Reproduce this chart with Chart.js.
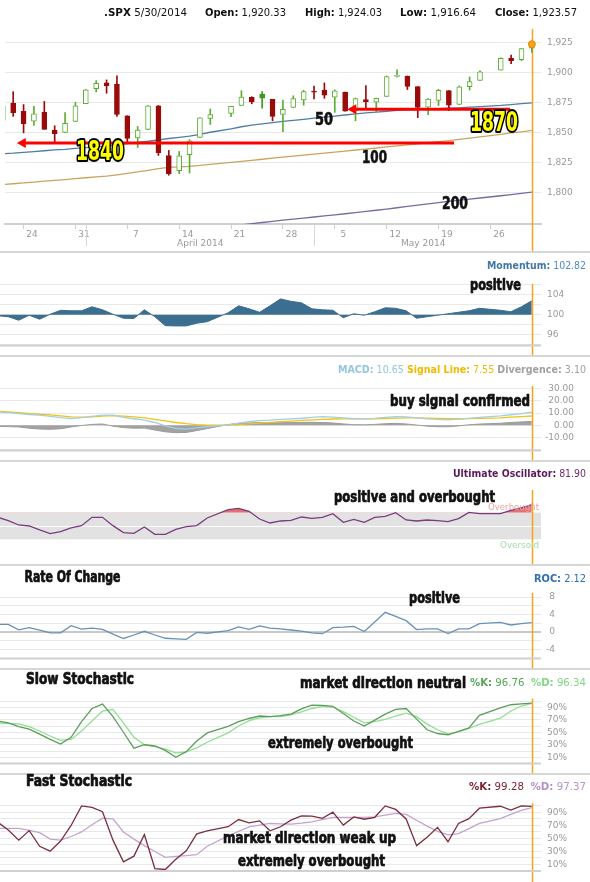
<!DOCTYPE html>
<html lang="en">
<head>
<meta charset="UTF-8">
<title>.SPX 5/30/2014 technical chart</title>
<script src="https://cdn.jsdelivr.net/npm/chart.js"></script>
<style>
  html, body { margin: 0; padding: 0; background: #fff; }
  #wrap { position: relative; width: 590px; height: 882px; overflow: hidden; background: #fff; }
  #wrap canvas { position: absolute; left: 0; }
  .sep { position: absolute; left: 0; width: 590px; height: 2px; background: #d6d6d6; }
</style>
</head>
<body>
<div id="wrap">
  <canvas id="cPrice" width="590" height="252" style="top:0px"></canvas>
  <canvas id="cMom" width="590" height="104" style="top:252px"></canvas>
  <canvas id="cMacd" width="590" height="105" style="top:356px"></canvas>
  <canvas id="cUlt" width="590" height="104" style="top:461px"></canvas>
  <canvas id="cRoc" width="590" height="104" style="top:565px"></canvas>
  <canvas id="cSlow" width="590" height="105" style="top:669px"></canvas>
  <canvas id="cFast" width="590" height="108" style="top:774px"></canvas>
  <div class="sep" style="top:251px"></div>
  <div class="sep" style="top:355px"></div>
  <div class="sep" style="top:460px"></div>
  <div class="sep" style="top:564px"></div>
  <div class="sep" style="top:668px"></div>
  <div class="sep" style="top:773px"></div>
  <canvas id="overlay" width="590" height="882" style="top:0px"></canvas>
</div>

<script>
// trading days shown (2014)
const days = ['3/20','3/21','3/24','3/25','3/26','3/27','3/28','3/31','4/1','4/2','4/3','4/4',
  '4/7','4/8','4/9','4/10','4/11','4/14','4/15','4/16','4/17','4/21','4/22','4/23','4/24','4/25',
  '4/28','4/29','4/30','5/1','5/2','5/5','5/6','5/7','5/8','5/9','5/12','5/13','5/14','5/15','5/16',
  '5/19','5/20','5/21','5/22','5/23','5/27','5/28','5/29','5/30'];

const open = [1860.1,1874.5,1867.7,1859.5,1867.1,1852.1,1850.1,1859.2,1874.0,1886.6,1891.4,1890.3,
  1863.9,1845.5,1852.6,1872.3,1830.7,1818.2,1831.5,1846.0,1861.7,1865.8,1872.6,1879.3,1882.0,1877.7,
  1865.0,1870.8,1877.1,1884.4,1885.3,1879.5,1883.7,1868.5,1877.4,1875.3,1880.0,1896.8,1897.1,1888.2,1871.2,
  1876.7,1884.9,1873.3,1888.2,1893.3,1902.0,1911.8,1910.6,1920.33];
const high = [1873.5,1884.0,1873.3,1871.9,1875.9,1855.6,1866.6,1875.2,1885.8,1893.2,1893.8,1897.3,
  1864.0,1855.0,1872.4,1872.5,1835.1,1834.2,1844.0,1862.3,1869.6,1871.9,1884.9,1879.8,1884.1,1877.7,
  1877.0,1880.6,1885.2,1888.6,1891.3,1885.5,1883.7,1878.8,1889.1,1878.6,1897.1,1902.2,1897.1,1888.2,1878.3,
  1886.0,1884.9,1888.8,1896.3,1901.3,1912.3,1914.5,1920.0,1924.03];
const low = [1854.6,1863.5,1849.7,1856.0,1852.6,1842.1,1850.1,1859.2,1874.0,1883.8,1882.7,1863.3,
  1841.5,1837.5,1852.4,1830.9,1814.4,1815.8,1816.3,1846.0,1856.7,1863.2,1872.6,1873.9,1870.2,1859.7,
  1850.6,1870.8,1872.7,1878.0,1878.5,1866.8,1867.7,1859.8,1870.1,1867.0,1880.0,1896.1,1885.8,1862.4,1864.8,
  1872.4,1868.1,1873.3,1885.4,1893.3,1902.0,1907.3,1909.8,1916.64];
const close = [1872.0,1866.5,1857.4,1865.6,1852.6,1849.0,1857.6,1872.3,1885.5,1890.9,1888.8,1865.1,
  1845.0,1852.0,1872.2,1833.1,1815.7,1830.6,1843.0,1862.3,1864.9,1871.9,1879.6,1875.4,1878.6,1863.4,
  1869.4,1878.3,1884.0,1883.7,1881.1,1884.7,1867.7,1878.2,1875.6,1878.5,1896.7,1897.5,1888.5,1870.9,1877.9,
  1885.1,1872.8,1888.0,1892.5,1900.5,1911.9,1909.8,1920.0,1923.57];

const sma50 = [1832.3,1832.8,1833.5,1834.1,1834.8,1835.5,1836.0,1836.7,1837.4,1838.1,1838.8,1839.8,
  1840.7,1841.7,1842.7,1843.9,1845.0,1846.0,1847.0,1848.5,1850.2,1853.0,1854.8,1856.2,1857.2,1858.2,
  1859.3,1860.1,1861.0,1861.9,1862.8,1863.7,1864.6,1865.6,1866.3,1867.0,1867.7,1868.4,1868.8,1869.1,1869.5,
  1869.9,1870.2,1870.6,1871.1,1871.6,1872.6,1873.3,1874.0,1874.7];
const sma100 = [1806.6,1807.3,1808.0,1808.7,1809.4,1810.1,1810.8,1811.5,1812.3,1813.0,1813.6,1814.7,
  1815.9,1817.1,1818.5,1819.9,1821.0,1821.3,1821.8,1822.6,1823.4,1825.1,1826.0,1826.8,1827.7,1828.6,
  1829.5,1830.3,1831.1,1832.0,1832.8,1833.7,1834.5,1835.4,1836.2,1837.1,1838.0,1838.9,1839.7,1840.6,1841.5,
  1842.4,1843.3,1844.3,1845.3,1846.4,1848.5,1849.6,1850.6,1851.7];
const sma200 = [1751.0,1752.0,1753.0,1754.0,1755.0,1756.0,1757.0,1758.0,1758.9,1759.8,1760.7,1761.6,
  1762.5,1763.4,1764.3,1765.2,1766.1,1767.0,1767.9,1768.9,1769.9,1772.0,1773.0,1774.0,1775.0,1775.9,
  1776.9,1777.8,1778.7,1779.6,1780.5,1781.4,1782.3,1783.2,1784.2,1785.2,1786.2,1787.3,1788.4,1789.5,1790.5,
  1791.6,1792.7,1793.6,1794.5,1795.4,1797.3,1798.3,1799.3,1800.3];

const momentum = [99.8,99.6,98.9,99.9,99.1,100.1,100.9,100.8,100.8,101.6,101.0,100.1,
  99.3,99.25,101.0,99.6,97.8,97.75,97.75,98.3,98.6,100.4,101.8,101.2,100.5,101.8,
  103.2,102.7,102.4,101.2,101.0,100.9,99.4,100.2,99.9,100.6,101.4,101.3,100.8,99.3,99.6,
  99.9,100.2,100.5,100.8,101.3,100.9,100.6,101.6,102.82];

const macd = [10.9,10.3,9.5,8.8,8.2,7.2,6.2,5.4,6.2,7.2,8.3,8.3,
  6.5,5.3,4.2,2.2,-0.5,-2.6,-3.2,-2.3,-1.3,0.3,1.6,2.8,3.8,4.2,
  4.7,5.2,5.7,6.5,7.0,6.6,6.0,5.3,5.2,5.6,6.4,7.0,6.8,6.0,5.2,
  4.8,4.4,4.9,5.6,6.4,7.6,8.6,9.6,10.65];
const signal = [11.5,11.0,10.3,9.7,9.0,8.4,7.7,6.8,6.6,6.8,7.4,7.8,
  7.5,6.9,6.0,4.8,3.5,2.2,1.2,0.5,0.1,0.0,0.4,1.0,1.7,2.3,
  2.9,3.4,3.9,4.4,4.8,5.1,5.2,5.2,5.2,5.3,5.5,5.8,6.0,6.0,5.8,
  5.6,5.4,5.3,5.4,5.6,6.0,6.6,7.0,7.55];
const divergence = [-1.0,-1.2,-1.5,-2.5,-3.2,-3.4,-3.0,-1.5,-0.3,0.6,1.0,-0.8,
  -2.0,-2.5,-2.4,-4.0,-5.5,-6.2,-6.0,-4.5,-2.8,0.5,1.5,1.8,2.1,2.0,
  2.0,2.1,2.3,2.4,2.2,1.8,1.0,0.4,0.3,0.6,1.2,1.5,1.0,0.1,-0.8,
  -1.3,-1.3,-0.6,0.3,0.9,1.6,2.2,2.7,3.1];

const ultimate = [63,58,51.5,50,44,38.5,41.5,47,50.5,63,63,50.5,
  40,39,48.5,37.5,37.5,45,49,50.5,62,74.5,76.5,72,60.5,54.5,
  57.5,58.5,63.5,61.5,63,68.5,55.5,60,55.5,63,64.5,70,59,57.5,59,
  58,56.5,61,70.5,68.5,68.5,73.5,77,81.9];

const roc = [1.75,1.75,0.5,1.0,0.4,-0.2,-0.2,1.45,0.65,0.9,0.6,-0.5,
  -1.5,-0.7,0.15,-0.7,-1.45,-1.6,-1.7,-0.1,-0.3,0.3,1.15,0.6,1.4,0.9,
  0.7,0.45,0.2,-0.2,-0.4,1.0,1.1,1.3,0.1,2.3,4.5,3.6,2.6,0.55,0.7,
  0.7,-0.35,0.7,0.7,1.9,2.2,1.6,1.9,2.12];

const slowK = [68,65,59,55,47,38.5,31,42,67,88,95,75,
  50,24.5,30,28,21,10,19,36,49,59.5,67,72,76,75,
  76.5,79,87.5,93.5,93,91.5,80,68,60,69.5,79,86.5,88,71,54,
  48,46,51.5,57,77,89,94,95.5,96.76];
const slowD = [65,64,63.5,59,52,44,37,38.5,52,68,84,86.5,
  65,42,30,27,23,17,18.5,25,34,49,60,68.5,73,75,
  75,78,82.5,88,91.5,90,83,74,65,67,70.5,76,80.5,75,63,
  54,47.5,50.5,56,62.5,72.5,84,92,96.34];
const fastK = [75,63,47.4,62,38,30.5,46,70,100,97.7,91,47.4,
  14,22.8,56,3.8,2.3,18,31,57,61.5,68,79,74,77,61.7,
  68,78.2,84.5,84.3,81,90.5,70.5,83,79.5,82.5,100,94.6,80,39,52,
  67,45,73,80.5,96.5,99.5,93.5,100,99.28];
const fastD = [65.4,65.4,65.4,62.5,59,49,47.4,53,60,71,81,80,
  60,49,39,30,21,22.5,23.5,25,38,54,61,67.8,70.5,73,
  72.5,72,73.5,75.5,79,82.3,82.3,82.3,82.5,83,86,88.5,87,78,69,
  61,55.5,57.5,65,73,80.5,87,93,97.37];

const weekTicks = ['3/24','3/31','4/7','4/14','4/21','4/28','5/5','5/12','5/19','5/26'];
const months = [['April 2014', '4/1'], ['May 2014', '5/1']];

// weekday slot counted from the first day (holidays keep their slot)
function slotOf(md) {
  const p = md.split('/').map(Number);
  const target = new Date(2014, p[0] - 1, p[1]);
  let n = 0;
  for (let d = new Date(2014, 2, 20); d < target; d.setDate(d.getDate() + 1)) {
    if (d.getDay() !== 0 && d.getDay() !== 6) n++;
  }
  return n;
}

const xs = days.map(slotOf);
const LAST = xs.length - 1;
const X_MIN = 0.21, X_MAX = 51.88;
const PLOT_RIGHT = 541;
const pts = vals => vals.map((v, k) => ({ x: xs[k], y: v }));

function lineSet(vals, color, extra) {
  return Object.assign({
    type: 'line', data: pts(vals), borderColor: color, borderWidth: 1.3,
    pointRadius: 0, fill: false, tension: 0
  }, extra || {});
}

function xHidden() {
  return { type: 'linear', min: X_MIN, max: X_MAX, offset: false, display: false };
}

// o.edge: right edge for right-aligned labels (otherwise labels are left-aligned)
function yAxis(o) {
  const isZero = c => o.zero && c.tick && c.tick.value === 0;
  return {
    position: 'right', min: o.min, max: o.max,
    afterFit(s) { s.width = (o.edge || 590) - PLOT_RIGHT; },
    afterBuildTicks(s) { s.ticks = o.grid.map(v => ({ value: v })); },
    grid: {
      drawTicks: false,
      display: o.grid.length > 0,
      color: c => isZero(c) ? '#c9c9c9' : '#e9e9e9',
      lineWidth: c => isZero(c) ? 2 : 1
    },
    border: { display: false },
    ticks: {
      display: !!o.labels,
      autoSkip: false,
      padding: 6,
      crossAlign: o.edge ? 'far' : 'near',
      color: '#999',
      font: { family: 'DejaVu Sans', size: 9, lineHeight: 1 },
      callback: v => (o.labels && o.labels.includes(v)) ? o.fmt(v) : ''
    }
  };
}

function cursorLine(behind) {
  const draw = chart => {
    const c = chart.ctx;
    const x = Math.round(chart.scales.x.getPixelForValue(xs[LAST])) + 0.5;
    c.save();
    c.strokeStyle = '#f7a21b';
    c.lineWidth = 1.5;
    c.beginPath();
    c.moveTo(x, chart.chartArea.top);
    c.lineTo(x, chart.height);
    c.stroke();
    c.restore();
  };
  return behind ? { id: 'cursor', beforeDatasetsDraw: draw } : { id: 'cursor', afterDatasetsDraw: draw };
}

const bottomLine = {
  id: 'bottomLine',
  afterDraw(chart) {
    const a = chart.chartArea, c = chart.ctx;
    c.save();
    c.strokeStyle = '#d0d0d0';
    c.lineWidth = 2;
    c.beginPath();
    c.moveTo(a.left, a.bottom);
    c.lineTo(a.right, a.bottom);
    c.stroke();
    c.restore();
  }
};

function panel(id, cfg) {
  return new Chart(document.getElementById(id), {
    type: cfg.type || 'line',
    data: { datasets: cfg.datasets },
    options: {
      responsive: false, animation: false, events: [],
      layout: { padding: { top: cfg.padTop, bottom: cfg.padBottom, left: 0, right: cfg.edge ? 590 - cfg.edge : 0 } },
      plugins: { legend: { display: false }, tooltip: { enabled: false } },
      scales: { x: cfg.x || xHidden(), y: cfg.y }
    },
    plugins: cfg.plugins
  });
}

// ---------- price ----------
const kind = close.map((c, k) => {
  if (c >= open[k]) return 'up';
  if (k > 0 && c >= close[k - 1]) return 'downUp';
  return 'down';
});
const bodyFill = { up: '#ffffff', down: '#990b0b', downUp: '#3f9a1e' };
const bodyLine = { up: '#5cad34', down: '#990b0b', downUp: '#3f9a1e' };

const arrows = [
  { level: 1841.2, from: 1.35, to: 43.5 },
  { level: 1869.3, from: 33.2, to: 48.9 }
];

const priceExtras = {
  id: 'priceExtras',
  afterDatasetsDraw(chart) {
    const c = chart.ctx, x = chart.scales.x, y = chart.scales.y;
    c.save();
    arrows.forEach(a => {
      const py = y.getPixelForValue(a.level);
      const x0 = x.getPixelForValue(a.from), x1 = x.getPixelForValue(a.to);
      c.strokeStyle = '#ff0000';
      c.lineWidth = 3;
      c.beginPath();
      c.moveTo(x0 + 6, py);
      c.lineTo(x1, py);
      c.stroke();
      c.fillStyle = '#ff0000';
      c.beginPath();
      c.moveTo(x0, py);
      c.lineTo(x0 + 9, py - 5);
      c.lineTo(x0 + 9, py + 5);
      c.closePath();
      c.fill();
    });
    c.restore();
  },
  afterDraw(chart) {
    const c = chart.ctx, x = chart.scales.x, a = chart.chartArea;
    c.save();
    c.strokeStyle = '#d8d8d8';
    c.lineWidth = 1;
    c.fillStyle = '#9a9a9a';
    c.font = '9px "DejaVu Sans"';
    c.textAlign = 'center';
    c.textBaseline = 'middle';
    months.forEach((m, k) => {
      const px = Math.round(x.getPixelForValue(slotOf(m[1]))) + 0.5;
      const next = k + 1 < months.length ? x.getPixelForValue(slotOf(months[k + 1][1])) : x.getPixelForValue(xs[LAST]);
      c.beginPath();
      c.moveTo(px, a.bottom);
      c.lineTo(px, a.bottom + 22);
      c.stroke();
      c.fillText(m[0], (px + next) / 2, 244);
    });
    c.restore();
  }
};

panel('cPrice', {
  type: 'bar',
  padTop: 29, padBottom: 0,
  datasets: [
    { type: 'line', data: [{ x: xs[LAST], y: close[LAST] }], showLine: false,
      pointRadius: 3.5, pointBackgroundColor: '#f7a21b', pointBorderColor: '#e38b00', pointBorderWidth: 1, order: 0 },
    { type: 'bar', data: days.map((d, k) => ({ x: xs[k], y: [open[k], close[k]] })),
      backgroundColor: kind.map(t => bodyFill[t]), borderColor: kind.map(t => bodyLine[t]),
      borderWidth: 1, borderSkipped: false, barThickness: 5, grouped: false, minBarLength: 1, order: 1 },
    { type: 'bar', data: days.map((d, k) => ({ x: xs[k], y: [low[k], high[k]] })),
      backgroundColor: kind.map(t => bodyLine[t]), barThickness: 1, grouped: false, order: 2 },
    lineSet(sma50, '#4d7fa3', { order: 3 }),
    lineSet(sma100, '#c9a55c', { order: 3 }),
    lineSet(sma200, '#7c69a0', { order: 3 })
  ],
  x: {
    type: 'linear', min: X_MIN, max: X_MAX, offset: false,
    afterBuildTicks(s) { s.ticks = weekTicks.map(d => ({ value: slotOf(d) })); },
    afterFit(s) { s.height = 28; },
    grid: { offset: false, drawOnChartArea: false, drawTicks: true, tickLength: 5, color: '#cfcfcf' },
    border: { display: true, color: '#cfcfcf', width: 2 },
    ticks: {
      autoSkip: false, maxRotation: 0, padding: 0, labelOffset: 8.5,
      color: '#9a9a9a', font: { family: 'DejaVu Sans', size: 9 },
      callback: (v, i) => weekTicks[i].split('/')[1]
    }
  },
  y: yAxis({ min: 1773.75, max: 1936.25, grid: [1800, 1825, 1850, 1875, 1900, 1925],
    labels: [1800, 1825, 1850, 1875, 1900, 1925], fmt: v => v.toLocaleString('en-US') }),
  plugins: [cursorLine(true), priceExtras]
});

// ---------- momentum ----------
panel('cMom', {
  padTop: 32, padBottom: 6,
  datasets: [lineSet(momentum, '#3c6e90', { borderWidth: 1, fill: { value: 100 }, backgroundColor: '#3c6e90' })],
  y: yAxis({ min: 93.8, max: 106.2, grid: [94, 96, 98, 100, 102, 104, 106], labels: [96, 100, 104], fmt: v => String(v) }),
  plugins: [cursorLine(false), bottomLine]
});

// ---------- MACD ----------
panel('cMacd', {
  padTop: 30, padBottom: 7, edge: 574,
  datasets: [
    lineSet(macd, '#a3cfe4', { order: 0 }),
    lineSet(signal, '#f1c316', { order: 1 }),
    lineSet(divergence, '#9c9c9c', { order: 2, borderWidth: 1, fill: { value: 0 }, backgroundColor: '#a2a2a2' })
  ],
  y: yAxis({ min: -20.9, max: 32.3, grid: [-20, -10, 0, 10, 20, 30], labels: [-10, 0, 10, 20, 30],
    fmt: v => v.toFixed(2), edge: 574 }),
  plugins: [cursorLine(false), bottomLine]
});

// ---------- Ultimate Oscillator ----------
const UO_HIGH = 70, UO_MID = 50, UO_LOW = 30;
const uoBand = {
  id: 'uoBand',
  beforeDatasetsDraw(chart) {
    const c = chart.ctx, y = chart.scales.y, a = chart.chartArea;
    const top = y.getPixelForValue(UO_HIGH), bot = y.getPixelForValue(UO_LOW), mid = y.getPixelForValue(UO_MID);
    c.save();
    c.fillStyle = '#e2e2e2';
    c.fillRect(a.left, top, a.right - a.left, bot - top);
    c.strokeStyle = '#ffffff';
    c.lineWidth = 1;
    c.beginPath();
    c.moveTo(a.left, Math.round(mid) + 0.5);
    c.lineTo(a.right, Math.round(mid) + 0.5);
    c.stroke();
    c.restore();
  }
};
panel('cUlt', {
  padTop: 29, padBottom: 5.7,
  datasets: [lineSet(ultimate, '#7b3b7d', {
    fill: { target: { value: UO_HIGH }, above: 'rgba(226,98,98,0.9)', below: 'rgba(0,0,0,0)' }
  })],
  y: yAxis({ min: 0, max: 104, grid: [] }),
  plugins: [uoBand, cursorLine(false)]
});

// ---------- ROC ----------
panel('cRoc', {
  padTop: 28, padBottom: 7, edge: 555,
  datasets: [lineSet(roc, '#6991b6')],
  y: yAxis({ min: -6.1, max: 8.95, grid: [-6, -4, -2, 0, 2, 4, 6, 8], labels: [-4, 0, 4, 8],
    fmt: v => String(v), edge: 555, zero: true }),
  plugins: [cursorLine(false), bottomLine]
});

// ---------- stochastics ----------
const stochGrid = [0, 10, 20, 30, 40, 50, 60, 70, 80, 90, 100];
const stochLabels = [10, 30, 50, 70, 90];
panel('cSlow', {
  padTop: 29.5, padBottom: 7.8,
  datasets: [lineSet(slowK, '#5f9d5f'), lineSet(slowD, '#90df90')],
  y: yAxis({ min: 0, max: 104, grid: stochGrid, labels: stochLabels, fmt: v => v + '%' }),
  plugins: [cursorLine(false), bottomLine]
});
panel('cFast', {
  padTop: 29.3, padBottom: 11,
  datasets: [lineSet(fastK, '#7a2f3f'), lineSet(fastD, '#c3a3cf')],
  y: yAxis({ min: 0, max: 104, grid: stochGrid, labels: stochLabels, fmt: v => v + '%' }),
  plugins: [cursorLine(false), bottomLine]
});

// ---------- text layer ----------
const ov = document.getElementById('overlay').getContext('2d');
const COND = '"Liberation Sans Narrow", "DejaVu Sans Condensed", "Liberation Sans", sans-serif';

function fitText(str, x, base, w, font, color, stroke) {
  ov.save();
  ov.font = font;
  const nat = ov.measureText(str).width;
  ov.translate(x, base);
  ov.scale(w / nat, 1);
  if (stroke) {
    ov.lineJoin = 'round';
    ov.lineWidth = stroke[1];
    ov.strokeStyle = stroke[0];
    ov.strokeText(str, 0, 0);
  }
  ov.fillStyle = color;
  ov.fillText(str, 0, 0);
  ov.restore();
}

function runs(parts, left, base, w) {
  ov.save();
  const fonts = parts.map(p => (p[2] ? 'bold ' : '') + '10px "DejaVu Sans"');
  let nat = 0;
  parts.forEach((p, i) => { ov.font = fonts[i]; nat += ov.measureText(p[0]).width; });
  ov.translate(left, base);
  ov.scale(w / nat, 1);
  let cx = 0;
  parts.forEach((p, i) => {
    ov.font = fonts[i];
    ov.fillStyle = p[1];
    ov.fillText(p[0], cx, 0);
    cx += ov.measureText(p[0]).width;
  });
  ov.restore();
}

// header
runs([['.SPX', '#111', true], [' 5/30/2014', '#111']], 104, 15.5, 83);
runs([['Open:', '#111', true], [' 1,920.33', '#111']], 205, 15.5, 81);
runs([['High:', '#111', true], [' 1,924.03', '#111']], 305, 15.5, 77);
runs([['Low:', '#111', true], [' 1,916.64', '#111']], 400, 15.5, 76);
runs([['Close:', '#111', true], [' 1,923.57', '#111']], 495, 15.5, 82);

// panel titles
runs([['Momentum:', '#3f78a6', true], [' 102.82', '#4d8bc2']], 487, 269, 99);
runs([['MACD:', '#95c6de', true], [' 10.65 ', '#95c6de'], ['Signal Line:', '#eebb00', true], [' 7.55 ', '#eebb00'],
  ['Divergence:', '#a0a0a0', true], [' 3.10', '#a0a0a0']], 338, 373, 248);
runs([['Ultimate Oscillator:', '#5b1a5e', true], [' 81.90', '#6e2c70']], 453, 477, 133);
runs([['ROC:', '#2f6fae', true], [' 2.12', '#2f6fae']], 534, 582, 52);
runs([['%K:', '#58a458', true], [' 96.76  ', '#58a458'], ['%D:', '#86d486', true], [' 96.34', '#86d486']], 470, 685.5, 116);
runs([['%K:', '#7c2233', true], [' 99.28  ', '#7c2233'], ['%D:', '#b592c4', true], [' 97.37', '#b592c4']], 469, 790, 117);

// oscillator zone labels
fitText('Overbought', 488, 510, 51, '9px "DejaVu Sans"', '#e9a3a3');
fitText('Oversold', 500, 548, 39, '9px "DejaVu Sans"', '#a6dba6');

// notes
const notes = [
  ['positive', 470, 290, 51],
  ['buy signal confirmed', 390, 406, 140],
  ['positive and overbought', 334, 502.3, 161],
  ['positive', 409, 602.7, 51],
  ['Rate Of Change', 24.5, 581.7, 96],
  ['Slow Stochastic', 26, 684.3, 108],
  ['market direction neutral', 300, 688.3, 166],
  ['extremely overbought', 268, 748.3, 145],
  ['Fast Stochastic', 26, 786, 106],
  ['market direction weak up', 223, 842.7, 173],
  ['extremely overbought', 238, 866, 147]
];
notes.forEach(n => fitText(n[0], n[1], n[2], n[3], 'bold 15px ' + COND, '#111', ['#111', 0.7]));

fitText('50', 315, 125, 18, 'bold 18px ' + COND, '#111', ['#111', 0.6]);
fitText('100', 362, 163, 25, 'bold 18px ' + COND, '#111', ['#111', 0.6]);
fitText('200', 442, 209, 26, 'bold 18px ' + COND, '#111', ['#111', 0.6]);
fitText('1840', 76, 160, 48, 'bold 26px ' + COND, '#ffff00', ['#000', 4]);
fitText('1870', 470, 131, 48, 'bold 26px ' + COND, '#ffff00', ['#000', 4]);
</script>
</body>
</html>
